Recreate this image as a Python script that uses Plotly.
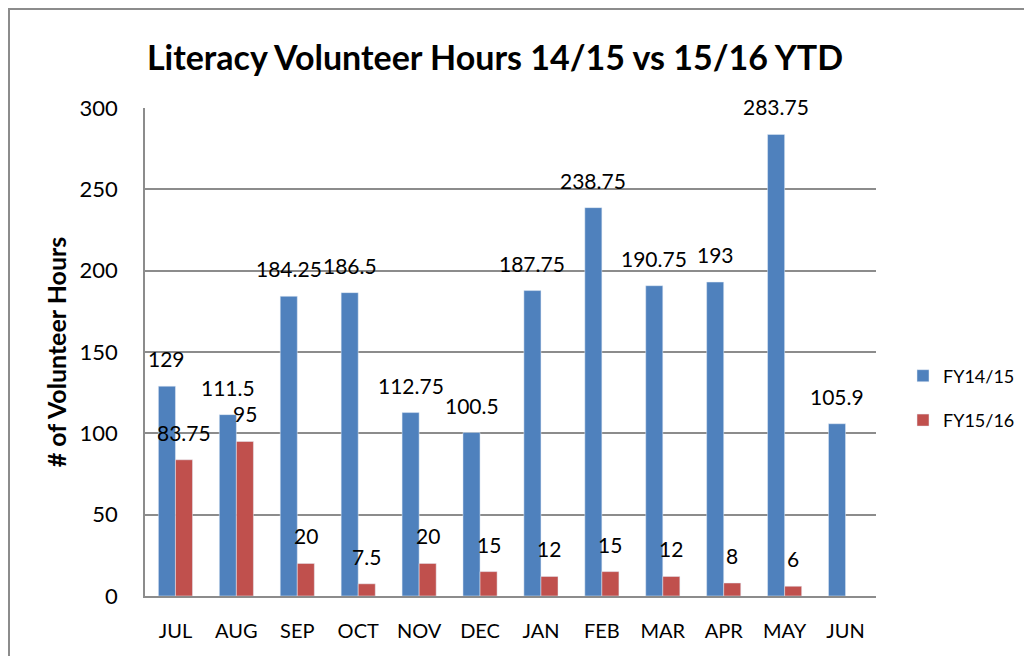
import plotly.graph_objects as go

months = ["JUL", "AUG", "SEP", "OCT", "NOV", "DEC", "JAN", "FEB", "MAR", "APR", "MAY", "JUN"]
fy1415 = [129, 111.5, 184.25, 186.5, 112.75, 100.5, 187.75, 238.75, 190.75, 193, 283.75, 105.9]
fy1516 = [83.75, 95, 20, 7.5, 20, 15, 12, 15, 12, 8, 6, None]

FONT = "Lato"
W, H = 1024, 648
L, R, T, B = 137, 156, 100, 60
BARGAP = 0.44
PW, PH = W - L - R, H - T - B

fig = go.Figure()
fig.add_trace(go.Bar(x=months, y=fy1415, name="FY14/15", marker_color="#4F81BD", legendgroup="a"))
fig.add_trace(go.Bar(x=months, y=fy1516, name="FY15/16", marker_color="#C0504D", legendgroup="b"))

# data labels centred above each bar
cat_px = PW / len(months)
half_bar = cat_px * (1 - BARGAP) / 4
annotations = []
for series, shift in ((fy1415, -half_bar), (fy1516, half_bar)):
    for m, v in zip(months, series):
        if v is None:
            continue
        annotations.append(dict(x=m, y=v, xref="x", yref="y", text=str(v), showarrow=False,
                                xshift=shift, yshift=13, yanchor="bottom", xanchor="center",
                                font=dict(size=21, family=FONT, color="black")))

fig.update_layout(
    width=W, height=H,
    margin=dict(l=L, r=R, t=T, b=B, autoexpand=False),
    paper_bgcolor="white", plot_bgcolor="white",
    font=dict(family=FONT, size=22, color="black"),
    title=dict(text="<b>Literacy Volunteer Hours 14/15 vs 15/16 YTD</b>",
               x=487 / W, xanchor="center", y=1 - 50 / H, yanchor="middle",
               font=dict(size=34, family=FONT, color="black")),
    barmode="group", bargap=BARGAP, bargroupgap=0,
    legend=dict(x=1 + 27 / PW, y=1 - (390 - T) / PH, xanchor="left", yanchor="middle",
                font=dict(size=18, family=FONT), traceorder="grouped",
                itemwidth=30, tracegroupgap=18, bgcolor="rgba(0,0,0,0)"),
    showlegend=True,
    annotations=annotations,
)
fig.update_yaxes(range=[0, 300], dtick=50, showgrid=True, gridcolor="#8C8C8C", gridwidth=1.5,
                 showline=True, linecolor="#8C8C8C", linewidth=1.5, automargin=False,
                 ticks="", tickfont=dict(size=22), ticklabelstandoff=21,
                 title=dict(text="<b># of Volunteer Hours</b>", font=dict(size=25), standoff=6),
                 zeroline=False)
fig.update_xaxes(showline=True, linecolor="#8C8C8C", linewidth=1.5, ticks="", automargin=False,
                 tickfont=dict(size=20), ticklabelstandoff=16)

# outer chart border
fig.add_shape(type="rect", xref="paper", yref="paper",
              x0=(1 - L) / PW, x1=(W + 20 - L) / PW,
              y0=-(B + 20) / PH, y1=1 + (T - 1) / PH,
              line=dict(color="#8C8C8C", width=2), layer="below")

fig.write_html("out.html")
